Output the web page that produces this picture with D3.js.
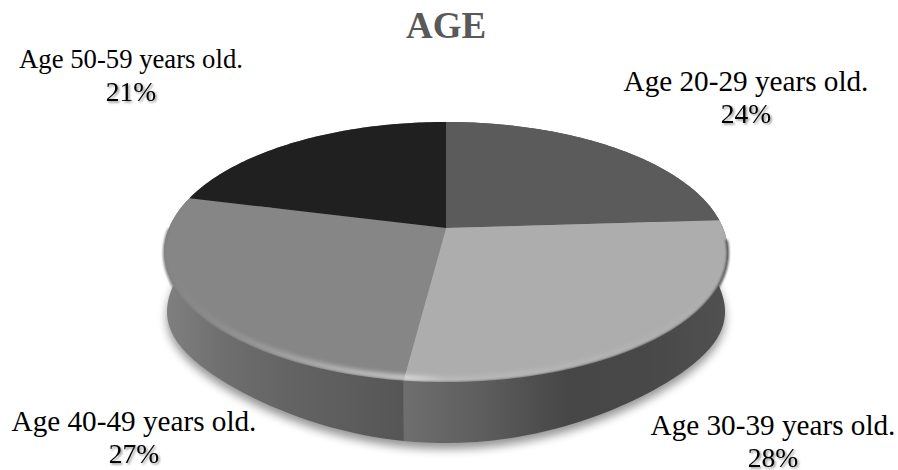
<!DOCTYPE html>
<html>
<head>
<meta charset="utf-8">
<script src="https://cdn.jsdelivr.net/npm/d3@7"></script>
<style>
  html, body { margin: 0; padding: 0; background: #fff; }
  svg { display: block; }
  text { font-family: "Liberation Serif", serif; fill: #000; }
</style>
</head>
<body>
<div id="chart"></div>
<script>
// Chart data
const title = "AGE";
const categories = ["Age 20-29 years old.", "Age 30-39 years old.", "Age 40-49 years old.", "Age 50-59 years old."];
const shares = [24, 28, 27, 21];

// Grey shades, one per slice
const faceColors = ["#5b5b5b", "#adadad", "#868686", "#202020"];
const sideStops = [
  ["#555555", "#555555"],
  ["#6e6e6e", "#5c5c5c", "#474747", "#484848", "#505050"],
  ["#808080", "#6e6e6e", "#646464", "#5d5d5d", "#555555"],
  ["#808080", "#808080"],
];

// Label placement: x centre, baseline of name, baseline of percent
const labelLayout = [
  { x: 746, name: 91, pct: 123, size: 29.2 },
  { x: 773, name: 435, pct: 467, size: 29.2 },
  { x: 134, name: 431, pct: 463, size: 29.2 },
  { x: 131, name: 68, pct: 101, size: 26.7 },
];

const width = 898, height = 470;
const tilt = 0.1846;   // perspective strength of the disc
const depth = 61;      // thickness of the pie
const bottomScale = 0.99;

const svg = d3.select("#chart").append("svg")
  .attr("width", width)
  .attr("height", height);
const defs = svg.append("defs");

const xScale = d3.scaleLinear().domain([-1, 1]).range([169, 723]);
const yScale = d3.scaleLinear().domain([-1, 1]).range([353.6, 102.4]);

// Disc coordinates to screen, far side smaller than the near side
function project(angle, radius = 1, dy = 0, sx = 1) {
  const u = radius * Math.sin(angle), v = radius * Math.cos(angle);
  const w = 1 + tilt * v;
  const x0 = xScale(0);
  return [x0 + (xScale(u / w) - x0) * sx, yScale(v / w) + dy];
}

// Lower edge of the wall: rounded off between the front and the sides
function projectBottom(angle, extra = 0) {
  const s = Math.sin(2 * angle);
  return project(angle, 1, depth - 10 * s * s + extra, bottomScale);
}

function arcAngles(d) {
  const n = Math.max(8, Math.ceil((d.endAngle - d.startAngle) * 60));
  return d3.range(n + 1).map(i => d.startAngle + (d.endAngle - d.startAngle) * i / n);
}

const pie = d3.pie().sort(null).startAngle(0).endAngle(2 * Math.PI);
const slices = pie(shares);
const line = d3.line();

// Filters
const blur = (id, sd) => defs.append("filter")
  .attr("id", id)
  .attr("x", "-20%").attr("y", "-20%").attr("width", "140%").attr("height", "140%")
  .append("feGaussianBlur").attr("stdDeviation", sd);
blur("shadowBlur", 5);
blur("rimBlur", 2);
blur("edgeBlur", 1.1);

defs.append("filter").attr("id", "pctShadow")
  .attr("x", "-20%").attr("y", "-20%").attr("width", "140%").attr("height", "150%")
  .append("feDropShadow")
  .attr("dx", 1.5).attr("dy", 1.5).attr("stdDeviation", 1.2)
  .attr("flood-color", "#000").attr("flood-opacity", 0.45);

// Side gradients run left to right across the slice
const sideRange = [[446, 727], [407, 724], [165, 407], [165, 446]];
slices.forEach((d, i) => {
  const g = defs.append("linearGradient")
    .attr("id", `side${i}`)
    .attr("gradientUnits", "userSpaceOnUse")
    .attr("x1", sideRange[i][0]).attr("x2", sideRange[i][1])
    .attr("y1", 0).attr("y2", 0);
  sideStops[i].forEach((c, j) => {
    g.append("stop")
      .attr("offset", j / (sideStops[i].length - 1))
      .attr("stop-color", c);
  });
});

// Rim highlight fades toward both ends of the front edge
const rimGrad = defs.append("linearGradient")
  .attr("id", "rimGrad")
  .attr("gradientUnits", "userSpaceOnUse")
  .attr("x1", 165).attr("x2", 727).attr("y1", 0).attr("y2", 0);
[[0, 0], [0.06, 0.03], [0.15, 0.14], [0.3, 0.38], [0.43, 0.55], [0.5, 0.16], [0.85, 0.06], [1, 0]].forEach(s => {
  rimGrad.append("stop").attr("offset", s[0]).attr("stop-color", "#fff").attr("stop-opacity", s[1]);
});

const discAngles = arcAngles({ startAngle: 0, endAngle: 2 * Math.PI });
const discPath = line(discAngles.map(a => project(a))) + "Z";
defs.append("clipPath").attr("id", "discClip").append("path").attr("d", discPath);

// Wall of one slice as overlapping strips, so the outline runs straight
// from the rim down to the lower edge at the far left and right
function wallPath(d) {
  const angles = arcAngles(d);
  return d3.range(angles.length - 1).map(i => {
    const j = Math.min(i + 2, angles.length - 1);
    return line([
      project(angles[i]), project(angles[j]),
      projectBottom(angles[j]), projectBottom(angles[i]),
    ]) + "Z";
  }).join("");
}

// Soft shadow under the whole pie
svg.append("path")
  .attr("d", line(discAngles.map(a => projectBottom(a, 6))) + "Z")
  .attr("fill", "#000")
  .attr("opacity", 0.42)
  .attr("filter", "url(#shadowBlur)");

// Side wall
svg.append("g").selectAll("path")
  .data(slices)
  .join("path")
  .attr("fill", (d, i) => `url(#side${i})`)
  .attr("d", wallPath);

// Top face
svg.append("g").selectAll("path")
  .data(slices)
  .join("path")
  .attr("fill", (d, i) => faceColors[i])
  .attr("d", d => line([project(0, 0)].concat(arcAngles(d).map(a => project(a)))) + "Z");

// Wall colour bleeds softly over the near edge of the face
svg.append("g").attr("filter", "url(#edgeBlur)").selectAll("path")
  .data(slices.slice(1, 3))
  .join("path")
  .attr("fill", "none")
  .attr("stroke", (d, i) => `url(#side${i + 1})`)
  .attr("stroke-width", 2.5)
  .attr("d", d => line(arcAngles(d)
    .filter(a => a > 1.65 && a < 4.72)
    .map(a => project(a, 1, 1))));

// Bevel highlight along the near rim
svg.append("g").attr("clip-path", "url(#discClip)")
  .append("path")
  .attr("d", line(discAngles.filter(a => a > 1.6 && a < 4.75).map(a => project(a, 0.985))))
  .attr("fill", "none")
  .attr("stroke", "url(#rimGrad)")
  .attr("stroke-width", 6)
  .attr("filter", "url(#rimBlur)");

// Title and labels
svg.append("text")
  .attr("x", 446).attr("y", 38)
  .attr("text-anchor", "middle")
  .style("font-size", "37px")
  .style("font-weight", "bold")
  .style("fill", "#595959")
  .text(title);

const labels = svg.append("g").selectAll("g")
  .data(categories)
  .join("g");

labels.append("text")
  .attr("x", (d, i) => labelLayout[i].x)
  .attr("y", (d, i) => labelLayout[i].name)
  .attr("text-anchor", "middle")
  .style("font-size", (d, i) => `${labelLayout[i].size}px`)
  .text(d => d);

labels.append("text")
  .attr("x", (d, i) => labelLayout[i].x)
  .attr("y", (d, i) => labelLayout[i].pct)
  .attr("text-anchor", "middle")
  .attr("filter", "url(#pctShadow)")
  .style("font-size", "27.5px")
  .text((d, i) => `${shares[i]}%`);
</script>
</body>
</html>
